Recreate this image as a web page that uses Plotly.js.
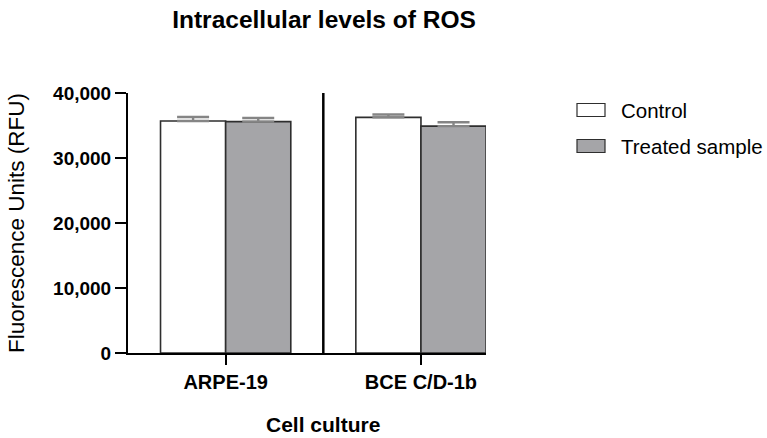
<!DOCTYPE html>
<html>
<head>
<meta charset="utf-8">
<script src="https://cdn.plot.ly/plotly-3.0.1.min.js"></script>
<style>html,body{margin:0;padding:0;background:#fff;}#chart{width:767px;height:438px;}</style>
</head>
<body>
<div id="chart"></div>
<script>
const categories = ["ARPE-19", "BCE C/D-1b"];
const seriesNames = ["Control", "Treated sample"];
const controlValues = [35700, 36250];
const controlErrors = [600, 450];
const treatedValues = [35600, 34900];
const treatedErrors = [550, 600];
const yTickValues = [0, 10000, 20000, 30000, 40000];
const yTickLabels = ["0", "10,000", "20,000", "30,000", "40,000"];

const font = "Liberation Sans, Arial, sans-serif";
const colors = ["#ffffff", "#a5a5a8"];
const outline = "#2e2e2e";

// plot area in pixels: x 128..486, y 93..353
const PL = 128, PR = 486, PT = 93, PB = 353;
const px = v => (v - PL) / (PR - PL);
const py = v => (PB - v) / (PB - PT);

const traces = [
  {
    type: "bar", name: seriesNames[0], x: categories, y: controlValues, showlegend: false,
    marker: {color: colors[0], line: {color: outline, width: 1.6}},
    error_y: {type: "data", symmetric: false, array: controlErrors, arrayminus: [0, 0], color: "#858585", thickness: 2.4, width: 16}
  },
  {
    type: "bar", name: seriesNames[1], x: categories, y: treatedValues, showlegend: false,
    marker: {color: colors[1], line: {color: outline, width: 1.6}},
    error_y: {type: "data", symmetric: false, array: treatedErrors, arrayminus: [0, 0], color: "#858585", thickness: 2.4, width: 16}
  }
];

const legendRows = [110, 146];
const shapes = [
  {type: "line", xref: "x", yref: "y", x0: 0.5, x1: 0.5, y0: 0, y1: 40000, line: {color: "#000", width: 2.5}}
];
const annotations = [
  {xref: "x", yref: "paper", x: 0.5, y: py(424), text: "<b>Cell culture</b>", showarrow: false,
   xanchor: "center", yanchor: "middle", font: {size: 21, family: font, color: "#000"}}
];
legendRows.forEach((cy, i) => {
  shapes.push({type: "rect", xref: "paper", yref: "paper", x0: px(577), x1: px(605), y0: py(cy + 6.5), y1: py(cy - 6.5),
    fillcolor: colors[i], line: {color: outline, width: 1.2}});
  annotations.push({xref: "paper", yref: "paper", x: px(619), y: py(cy), text: seriesNames[i], showarrow: false,
    xanchor: "left", yanchor: "middle", font: {size: 20.5, family: font, color: "#000"}});
});

const layout = {
  width: 767, height: 438,
  margin: {l: PL, r: 767 - PR, t: PT, b: 438 - PB},
  paper_bgcolor: "#fff", plot_bgcolor: "#fff",
  font: {family: font, color: "#000"},
  barmode: "group", bargap: 0.333, bargroupgap: 0,
  showlegend: false,
  title: {text: "<b>Intracellular levels of ROS</b>", font: {size: 24.5, family: font, color: "#000"}, x: 324/767, xanchor: "center", y: 1 - 19/438, yanchor: "middle"},
  xaxis: {
    range: [-0.5, 1.333], showgrid: false, zeroline: false,
    showline: true, linecolor: "#000", linewidth: 2,
    ticks: "outside", ticklen: 10, tickwidth: 2, tickcolor: "#000",
    tickfont: {size: 20, family: font, color: "#000"},
    tickvals: categories, ticktext: categories.map(c => "<b>" + c + "</b>")
  },
  yaxis: {
    range: [0, 40000], showgrid: false, zeroline: false,
    showline: true, linecolor: "#000", linewidth: 2,
    ticks: "outside", ticklen: 11, tickwidth: 2, tickcolor: "#000",
    tickvals: yTickValues, ticktext: yTickLabels.map(t => "<b>" + t + "</b>"),
    tickfont: {size: 19, family: font, color: "#000"},
    title: {text: "Fluorescence Units (RFU)", font: {size: 22.5, family: font, color: "#000"}, standoff: 22}
  },
  shapes: shapes,
  annotations: annotations
};

Plotly.newPlot("chart", traces, layout, {displayModeBar: false, staticPlot: true});
</script>
</body>
</html>
